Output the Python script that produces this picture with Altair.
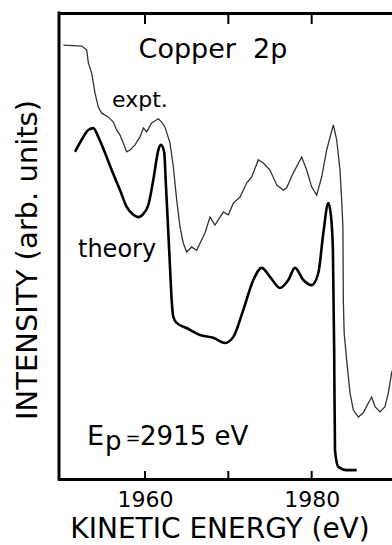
import altair as alt
import pandas as pd

# ---- data ----
expt_energy = [1950.2, 1952.4, 1953.0, 1953.2, 1953.6, 1953.8, 1954.0, 1954.4, 1954.8, 1955.6,
               1956.2, 1956.6, 1957.0, 1957.4, 1957.8, 1958.2, 1958.8, 1959.4, 1959.8, 1960.2,
               1960.8, 1961.6, 1962.0, 1962.4, 1963.0, 1963.4, 1963.8, 1964.2, 1964.6, 1965.0,
               1965.6, 1966.2, 1966.6, 1967.2, 1967.8, 1968.4, 1969.0, 1969.4, 1970.0, 1970.6,
               1971.4, 1972.2, 1972.8, 1973.6, 1974.2, 1975.0, 1975.8, 1976.6, 1977.0, 1977.8,
               1978.8, 1979.4, 1980.0, 1980.6, 1981.2, 1981.8, 1982.6, 1983.0, 1983.4, 1983.6,
               1983.75, 1983.8, 1983.9, 1984.2, 1984.6, 1985.0, 1985.6, 1986.2, 1986.8, 1987.2,
               1987.6, 1988.2, 1988.8, 1989.2, 1989.6, 1990.1]
expt_intensity = [93.1, 92.9, 92.1, 89.3, 87.1, 85.0, 82.8, 79.8, 78.5, 77.7,
                  76.6, 74.9, 73.8, 72.1, 70.2, 70.6, 71.7, 73.4, 75.3, 74.5,
                  76.4, 77.3, 76.6, 75.5, 72.1, 67.0, 59.9, 54.1, 50.6, 48.7,
                  49.8, 49.1, 50.6, 52.8, 56.2, 54.5, 56.2, 57.3, 56.7, 59.2,
                  60.5, 63.5, 64.8, 68.5, 67.8, 66.3, 63.1, 62.0, 62.5, 65.7,
                  69.1, 66.3, 62.7, 60.9, 64.8, 70.6, 76.0, 72.8, 66.3, 59.9,
                  54.1, 38.4, 31.3, 25.5, 18.5, 14.8, 13.3, 14.2, 16.3, 17.6,
                  15.5, 14.4, 15.5, 18.5, 22.8, 25.5]

theory_energy = [1951.6, 1952.4, 1953.2, 1953.8, 1954.4, 1955.2, 1956.0, 1957.0, 1957.8, 1958.6,
                 1959.2, 1959.8, 1960.4, 1961.0, 1961.6, 1961.9, 1962.3, 1962.5, 1962.8, 1963.0,
                 1963.2, 1963.4, 1963.8, 1965.0, 1966.6, 1968.2, 1969.6, 1970.6, 1971.8, 1973.0,
                 1974.0, 1975.0, 1976.2, 1977.2, 1978.0, 1979.0, 1980.0, 1980.8, 1981.4, 1982.0,
                 1982.3, 1982.55, 1982.7, 1982.8, 1983.2, 1984.2, 1985.4]
theory_intensity = [70.2, 72.8, 74.9, 75.3, 73.4, 70.0, 66.3, 62.0, 58.4, 56.7,
                    56.2, 56.9, 58.8, 64.2, 70.6, 71.7, 70.2, 63.5, 52.8, 45.5,
                    38.4, 34.8, 33.5, 32.4, 30.9, 30.3, 29.2, 30.5, 36.3, 42.7,
                    45.3, 43.4, 41.0, 42.7, 45.3, 42.7, 41.6, 44.2, 52.8, 59.2,
                    56.7, 49.1, 27.7, 6.2, 2.6, 1.9, 1.9]

tick_values = [1960, 1970, 1980]
label_values = [1960, 1980]

# ---- chart ----
FONT = "DejaVu Sans"
W, H = 333, 466
X_MIN, X_MAX = 1949.68, 1989.64
Y_MIN, Y_MAX = 0, 100
xscale = alt.Scale(domain=[X_MIN, X_MAX], nice=False, zero=False)
yscale = alt.Scale(domain=[Y_MIN, Y_MAX], nice=False, zero=False)

expt_df = pd.DataFrame({"energy": expt_energy, "intensity": expt_intensity,
                        "idx": list(range(len(expt_energy)))})
theory_df = pd.DataFrame({"energy": theory_energy, "intensity": theory_intensity})
ticks_df = pd.DataFrame({"energy": tick_values})

bottom_axis = alt.Axis(orient="bottom", values=label_values, format="d", ticks=False, grid=False,
                       domainColor="black", domainWidth=3, domainCap="square",
                       labelFont=FONT, labelFontSize=22, labelColor="black",
                       labelPadding=10, labelFlush=False, title=None)
top_axis = alt.Axis(orient="top", labels=False, ticks=False, grid=False, domainColor="black",
                    domainWidth=3, domainCap="square", title=None)

expt = alt.Chart(expt_df).mark_line(color="#333333", strokeWidth=1.3, clip=True).encode(
    x=alt.X("energy:Q", scale=xscale, axis=bottom_axis),
    y=alt.Y("intensity:Q", scale=yscale, axis=None),
    order="idx:Q",
)

theory = alt.Chart(theory_df).mark_line(color="black", strokeWidth=2.6, interpolate="monotone",
                                         clip=True).encode(
    x=alt.X("energy:Q", scale=xscale, axis=None),
    y=alt.Y("intensity:Q", scale=yscale, axis=None),
)

# left frame line (the y axis line) at the low end of the energy scale
left_frame = alt.Chart(pd.DataFrame({"e": [X_MIN]})).mark_rule(
    color="black", strokeWidth=3, strokeCap="square").encode(
    x=alt.X("e:Q", scale=xscale, axis=None),
    y=alt.Y(datum=Y_MIN, scale=yscale, axis=None),
    y2=alt.Y2(datum=Y_MAX),
)

top_ticks = alt.Chart(ticks_df).mark_rule(color="black", strokeWidth=2).encode(
    x=alt.X("energy:Q", scale=xscale, axis=top_axis),
    y=alt.value(0), y2=alt.value(11),
)
bottom_ticks = alt.Chart(ticks_df).mark_rule(color="black", strokeWidth=2).encode(
    x=alt.X("energy:Q", scale=xscale, axis=None),
    y=alt.value(H), y2=alt.value(H - 8),
)


def label(text, x, y, size, align="left", baseline="alphabetic", angle=0):
    return alt.Chart(pd.DataFrame({"t": [text]})).mark_text(
        font=FONT, fontSize=size, align=align, baseline=baseline, angle=angle, color="black"
    ).encode(
        text="t:N",
        x=alt.X(datum=x, scale=xscale, axis=None),
        y=alt.Y(datum=y, scale=yscale, axis=None),
    )


texts = [
    label("Copper\u00a0\u00a02p", 1968.16, 90.3, 27, align="center"),
    label("expt.", 1956.04, 79.8, 22),
    label("theory", 1951.96, 47.6, 24),
    label("E", 1953.04, 7.3, 27),
    label("p", 1955.20, 6.2, 26),
    label("=", 1958.56, 7.5, 18, align="center"),
    label("2915 eV", 1959.40, 7.3, 26),
    # axis titles
    label("KINETIC ENERGY (eV)", 1969.0, -12.6, 28, align="center"),
    label("INTENSITY (arb. units)", 1945.96, 47.0, 29, align="center",
          baseline="middle", angle=270),
]

chart = alt.layer(expt, theory, left_frame, top_ticks, bottom_ticks, *texts).resolve_axis(
    x="independent"
).properties(
    width=W, height=H,
    padding={"left": 59, "top": 13, "right": 0, "bottom": 66},
    autosize="none",
).configure_view(stroke=None).configure(background="white")

chart.save("out.html", embed_options={"renderer": "svg", "actions": False})
